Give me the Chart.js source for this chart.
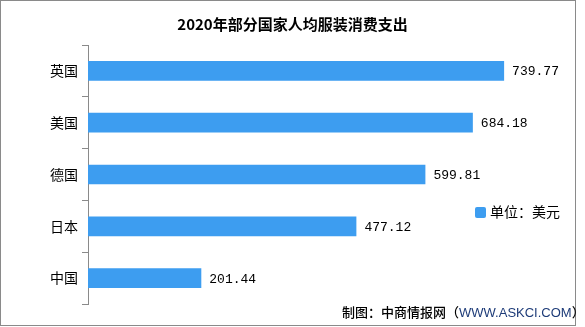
<!DOCTYPE html>
<html>
<head>
<meta charset="utf-8">
<script src="https://cdn.jsdelivr.net/npm/chart.js@4"></script>
<style>
  html, body { margin: 0; padding: 0; background: #fff; }
  .wrap { position: relative; width: 585px; height: 327px; overflow: hidden; }
  .frame { position: absolute; left: 0; top: 0; width: 574px; height: 324px; border: 1px solid #8a8a8a; }
  canvas { position: absolute; left: 0; top: 0; }
  .title { position: absolute; left: 0; width: 585px; top: 13px; text-align: center;
           font: bold 15px "Noto Sans CJK SC"; color: #000; }
  .legend { position: absolute; left: 475px; top: 201px; font: 14px "Noto Sans CJK SC"; color: #000; white-space: nowrap; }
  .legend i { display: inline-block; width: 11px; height: 11px; background: #3d9df0; border-radius: 2px;
              vertical-align: -1px; margin-right: 4px; }
  .foot { position: absolute; left: 342px; top: 302px; font: 500 13px "Noto Sans CJK SC"; color: #000; white-space: nowrap; }
  .foot span { font-family: "Liberation Sans"; color: #1d3b78; }
</style>
</head>
<body>
<div class="wrap">
  <canvas id="chart" width="585" height="327"></canvas>
  <div class="frame"></div>
  <div class="title">2020年部分国家人均服装消费支出</div>
  <div class="legend"><i></i>单位：美元</div>
  <div class="foot">制图：中商情报网（<span>WWW.ASKCI.COM</span>）</div>
</div>
<script>
// 数据
const countries = ['英国', '美国', '德国', '日本', '中国'];
const spending = [739.77, 684.18, 599.81, 477.12, 201.44];
const xMax = 800;

// 数値ラベル
const valueLabels = {
    id: 'valueLabels',
    afterDatasetsDraw(chart) {
        const ctx = chart.ctx;
        const meta = chart.getDatasetMeta(0);
        ctx.save();
        ctx.font = '13px "Liberation Mono"';
        ctx.fillStyle = '#000';
        ctx.textAlign = 'left';
        ctx.textBaseline = 'middle';
        meta.data.forEach((bar, i) => {
            ctx.fillText(spending[i].toFixed(2), bar.x + 8, bar.y + 1);
        });
        ctx.restore();
    }
};

new Chart(document.getElementById('chart'), {
    type: 'bar',
    data: {
        labels: countries,
        datasets: [{
            label: '单位：美元',
            data: spending,
            backgroundColor: '#3d9df0',
            categoryPercentage: 0.38,
            barPercentage: 1
        }]
    },
    options: {
        indexAxis: 'y',
        responsive: false,
        animation: false,
        layout: { padding: { top: 45, right: 47, bottom: 23, left: 0 } },
        plugins: {
            legend: { display: false },
            title: { display: false },
            tooltip: { enabled: false }
        },
        scales: {
            x: {
                display: false,
                min: 0,
                max: xMax
            },
            y: {
                afterFit: (scale) => { scale.width = 88; },
                border: { color: '#8a8a8a', width: 1 },
                grid: { drawOnChartArea: false, color: '#8a8a8a', tickLength: 6, offset: true },
                ticks: {
                    color: '#000',
                    padding: 4,
                    font: { family: 'Noto Sans CJK SC', size: 14 }
                }
            }
        }
    },
    plugins: [valueLabels]
});
</script>
</body>
</html>
